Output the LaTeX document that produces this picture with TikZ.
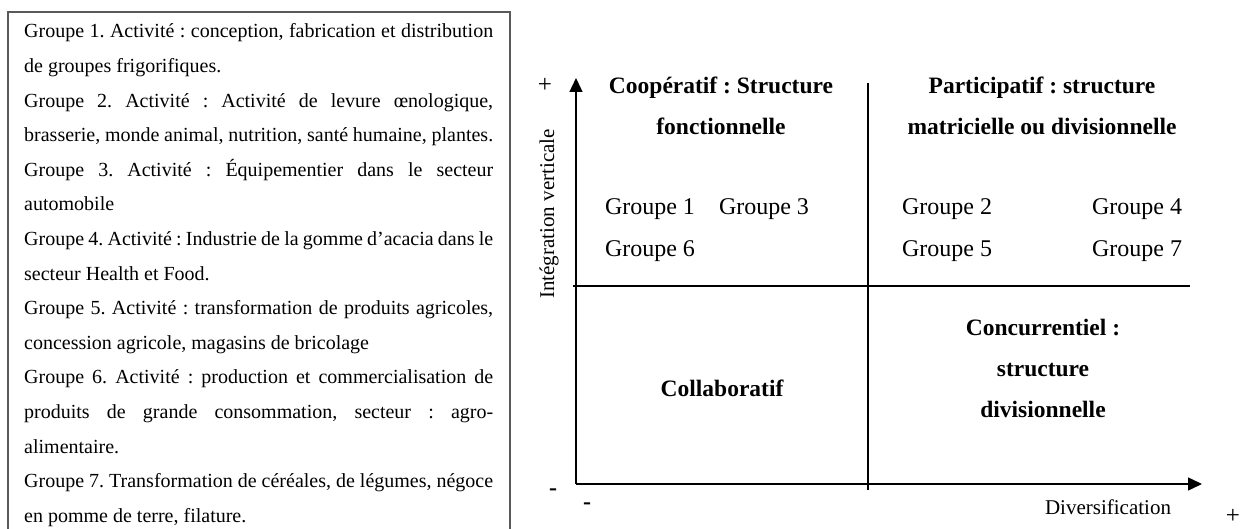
\documentclass[tikz,border=0pt]{standalone}
\usepackage{fontspec}
\setmainfont{Liberation Serif}
\usetikzlibrary{arrows.meta,positioning}
\tolerance=10000
\hbadness=10000
\frenchspacing

\begin{document}
\begin{tikzpicture}[x=1pt,y=1pt,
    axis/.style={line width=1.4pt,-{Triangle[length=14pt,width=13pt]}},
    divline/.style={line width=1.2pt},
    grp/.style={font=\fontsize{24}{28}\selectfont,inner sep=0pt},
    quad/.style={font=\fontsize{23.5}{41}\selectfont\bfseries,align=center,inner sep=0pt},
    sign/.style={font=\fontsize{25}{28}\selectfont,inner sep=0pt},
    minus/.style={font=\fontsize{24}{28}\selectfont\bfseries,inner sep=0pt},
    axlabel/.style={font=\fontsize{21}{25}\selectfont,inner sep=0pt}]
    \useasboundingbox (0,0) rectangle (1241,-529);
    \draw[line width=1.2pt,gray!70!black] (8,-545) |- (510,-12) -- (510,-545);
    \node[anchor=base west,text width=469pt,align=justify,inner sep=0pt,
          font=\fontsize{20}{34.6}\selectfont] (legend) at (24,-38)
        {Groupe 1. Activité : conception, fabrication et distribution\linebreak
         de groupes frigorifiques.\par
         Groupe 2. Activité : Activité de levure œnologique,\linebreak
         brasserie, monde animal, nutrition, santé humaine, plantes.\par
         Groupe 3. Activité : Équipementier dans le secteur\linebreak
         automobile\par
         Groupe 4. Activité : Industrie de la gomme d'acacia dans le\linebreak
         secteur Health et Food.\par
         Groupe 5. Activité : transformation de produits agricoles,\linebreak
         concession agricole, magasins de bricolage\par
         Groupe 6. Activité : production et commercialisation de\linebreak
         produits de grande consommation, secteur : agro-\linebreak
         alimentaire.\par
         Groupe 7. Transformation de céréales, de légumes, négoce\linebreak
         en pomme de terre, filature.};

    \coordinate (O) at (576,-484);
    \coordinate (ytop) at (576,-78);
    \coordinate (xend) at (1202,-484);
    \coordinate (vtop) at (868,-83);
    \coordinate (vbot) at (868,-490);
    \coordinate (hleft) at (573,-286);
    \coordinate (hright) at (1190,-286);
    \draw[axis] (O) -- (ytop);
    \draw[axis] (O) -- (xend);
    \draw[divline] (vtop) -- (vbot);
    \draw[divline] (hleft) -- (hright);

    \node[sign] (yplus) at (545,-85) {+};
    \node[minus] (yminus) at (553,-492) {-};
    \node[minus] (xminus) at (587,-506) {-};
    \node[sign] (xplus) at (1233,-516) {+};
    \node[axlabel,rotate=90] (ylab) at (549,-214) {Intégration verticale};
    \node[axlabel] (xlab) at (1108,-507) {Diversification};

    \node[quad] (coop) at (721,-106) {Coopératif : Structure\\fonctionnelle};
    \node[quad] (part) at (1042,-106) {Participatif : structure\\matricielle ou divisionnelle};
    \node[quad] (coll) at (722,-388) {Collaboratif};
    \node[quad] (conc) at (1043,-368) {Concurrentiel :\\structure\\divisionnelle};

    \node[grp] (g1) at (650,-209) {Groupe 1};
    \node[grp] (g3) at (764,-209) {Groupe 3};
    \node[grp] (g6) at (650,-251) {Groupe 6};
    \node[grp] (g2) at (947,-209) {Groupe 2};
    \node[grp] (g4) at (1137,-209) {Groupe 4};
    \node[grp] (g5) at (947,-251) {Groupe 5};
    \node[grp] (g7) at (1137,-251) {Groupe 7};
\end{tikzpicture}
\end{document}
